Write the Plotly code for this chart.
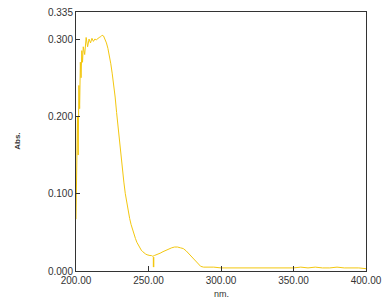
import plotly.graph_objects as go

wavelength = [200, 200.5, 201, 201.5, 202, 202.5, 203, 203.5, 204, 204.5, 205, 206, 207, 208, 209,
              210, 211, 212, 213, 214, 215, 216, 217, 218, 219, 220, 221, 222, 223, 224, 225,
              226, 227, 228, 229, 230, 231, 232, 233, 234, 235, 236, 237, 238, 239, 240, 241,
              242, 243, 244, 245, 246, 247, 248, 249, 250, 251, 252, 253, 254, 256, 258, 260,
              262, 264, 266, 268, 270, 272, 274, 276, 278, 280, 282, 284, 286, 288, 290, 295,
              300, 310, 320, 330, 340, 350, 355, 360, 365, 370, 375, 380, 385, 390, 395, 400]
absorbance = [0.067, 0.14, 0.20, 0.15, 0.24, 0.21, 0.27, 0.25, 0.285, 0.27, 0.29, 0.28, 0.302, 0.29, 0.300,
              0.295, 0.301, 0.297, 0.300, 0.299, 0.301, 0.302, 0.303, 0.305, 0.304, 0.300, 0.295, 0.288, 0.280, 0.268, 0.255,
              0.242, 0.225, 0.205, 0.185, 0.166, 0.148, 0.131, 0.115, 0.100, 0.088, 0.077, 0.068, 0.060, 0.053, 0.047, 0.042,
              0.037, 0.033, 0.030, 0.027, 0.025, 0.023, 0.022, 0.021, 0.020, 0.020, 0.020, 0.019, 0.020, 0.021, 0.023, 0.025,
              0.027, 0.029, 0.030, 0.031, 0.031, 0.030, 0.029, 0.026, 0.022, 0.018, 0.013, 0.009, 0.006, 0.005, 0.005, 0.005,
              0.004, 0.004, 0.004, 0.004, 0.004, 0.004, 0.005, 0.004, 0.005, 0.004, 0.004, 0.005, 0.004, 0.004, 0.004, 0.003]

marker_x = [253.5, 253.5]
marker_y = [0.005, 0.018]

x_ticks = [200, 250, 300, 350, 400]
y_ticks = [0.0, 0.1, 0.2, 0.3, 0.335]
y_tick_text = ["0.000", "0.100", "0.200", "0.300", "0.335"]

color = "#f3c70f"

fig = go.Figure()
fig.add_trace(go.Scatter(x=wavelength, y=absorbance, mode="lines",
                         line=dict(color=color, width=1), showlegend=False))
fig.add_trace(go.Scatter(x=marker_x, y=marker_y, mode="lines",
                         line=dict(color=color, width=1.5), showlegend=False))

fig.update_layout(
    width=388, height=300,
    margin=dict(l=76, r=16, t=6, b=29),
    paper_bgcolor="white", plot_bgcolor="white",
    font=dict(family="Liberation Sans, Arial, sans-serif", size=10, color="#333333"),
    xaxis=dict(range=[200, 400], tickvals=x_ticks, tickformat=".2f",
               ticks="inside", ticklen=5, tickcolor="#333333",
               showline=True, linecolor="#333333", linewidth=1, mirror=True,
               showgrid=False, zeroline=False),
    yaxis=dict(range=[0, 0.335], tickvals=y_ticks, ticktext=y_tick_text,
               ticks="inside", ticklen=4, tickcolor="#333333",
               showline=True, linecolor="#333333", linewidth=1, mirror=True,
               showgrid=False, zeroline=False),
    annotations=[
        dict(text="nm.", x=0.5, y=0, xref="paper", yref="paper", yanchor="top", yshift=-16,
             showarrow=False, font=dict(size=9)),
        dict(text="<b>Abs.</b>", x=-0.225, y=0.5, xref="paper", yref="paper",
             showarrow=False, textangle=-90, font=dict(size=8)),
    ],
)
fig.write_html("out.html")
